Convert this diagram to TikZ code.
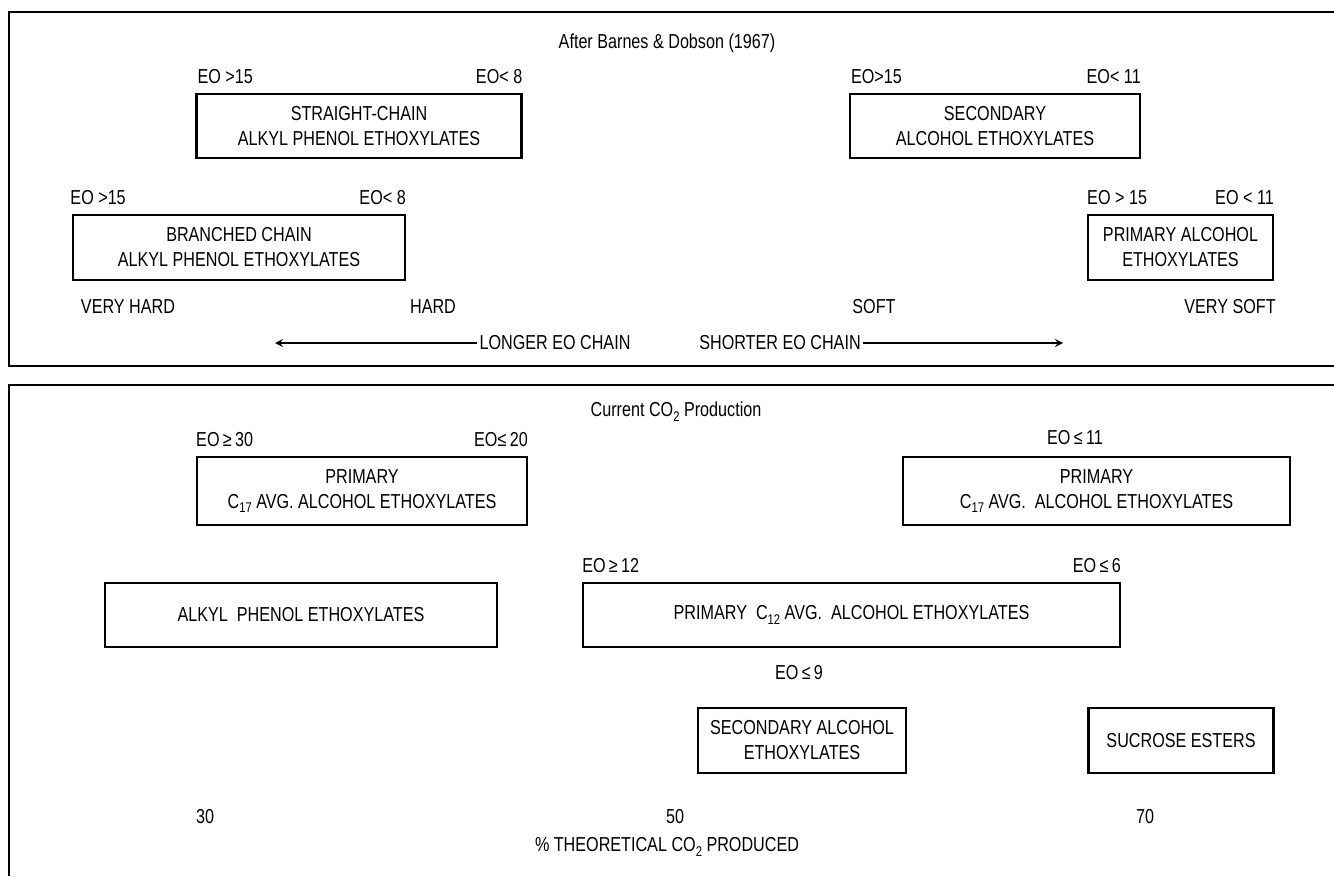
\documentclass[tikz,border=0pt]{standalone}
\usepackage{fontspec}
\setmainfont{Liberation Sans}[FakeStretch=0.8]
\usetikzlibrary{positioning, arrows}
\newcommand{\lowsub}[1]{\raisebox{-0.45ex}{\footnotesize #1}}

\begin{document}
\begin{tikzpicture}[
  x=0.02cm, y=-0.02cm, >=stealth,
  font=\fontsize{11.5}{14.2}\selectfont,
  box/.style={draw=black, line width=1.3pt, align=center, inner sep=2pt},
  frame/.style={draw=black, line width=1.4pt},
  lbl/.style={inner sep=1pt},
  eol/.style={inner sep=0pt, anchor=base west},
  eor/.style={inner sep=0pt, anchor=base east}
]
\useasboundingbox (0,0) rectangle (1334,876);

% panel frames
\draw[frame] (1334,12) -- (9,12) -- (9,366) -- (1334,366);
\draw[frame] (1334,385) -- (9,385) -- (9,876);

% upper panel
\node[lbl] (ttop) at (667,43) {After Barnes \& Dobson (1967)};

\node[box, minimum width=6.5cm, minimum height=1.28cm] (sape) at (359,126) {STRAIGHT-CHAIN\\ALKYL PHENOL ETHOXYLATES};
\node[box, minimum width=5.8cm, minimum height=1.28cm] (sae) at (995,126) {SECONDARY\\ALCOHOL ETHOXYLATES};
\node[box, minimum width=6.64cm, minimum height=1.3cm] (bape) at (239,247.5) {BRANCHED CHAIN\\ALKYL PHENOL ETHOXYLATES};
\node[box, minimum width=3.7cm, minimum height=1.3cm] (pae) at (1180.5,247.5) {PRIMARY ALCOHOL\\ETHOXYLATES};

\node[eol] (sapeL) at ([xshift=1pt, yshift=5.5pt]sape.north west) {EO >15};
\node[eor] (sapeR) at ([yshift=5.5pt]sape.north east) {EO< 8};
\node[eol] (saeL) at ([xshift=1pt, yshift=5.5pt]sae.north west) {EO>15};
\node[eor] (saeR) at ([yshift=5.5pt]sae.north east) {EO< 11};
\node[eol] (bapeL) at ([xshift=-1pt, yshift=5.5pt]bape.north west) {EO >15};
\node[eor] (bapeR) at ([yshift=5.5pt]bape.north east) {EO< 8};
\node[eol] (paeL) at ([yshift=5.5pt]pae.north west) {EO > 15};
\node[eor] (paeR) at ([yshift=5.5pt]pae.north east) {EO < 11};

\node[lbl] (vhard) at (128,307) {VERY HARD};
\node[lbl] (hard) at (433,307) {HARD};
\node[lbl] (soft) at (874,307) {SOFT};
\node[lbl] (vsoft) at (1230,307) {VERY SOFT};

\node[lbl] (longer) at (555,343) {LONGER EO CHAIN};
\node[lbl] (shorter) at (780,343) {SHORTER EO CHAIN};
\coordinate (lend) at (275,343);
\coordinate (rend) at (1063,343);
\draw[->, line width=1pt] (longer.west) -- (lend);
\draw[->, line width=1pt] (shorter.east) -- (rend);

% lower panel
\node[lbl] (tbot) at (676,412) {Current CO\lowsub{2} Production};

\node[box, minimum width=6.6cm, minimum height=1.36cm] (pcl) at (362,491) {PRIMARY\\C\lowsub{17} AVG. ALCOHOL ETHOXYLATES};
\node[box, minimum width=7.74cm, minimum height=1.36cm] (pcr) at (1096.5,491) {PRIMARY\\C\lowsub{17} AVG.\ \ ALCOHOL ETHOXYLATES};
\node[box, minimum width=7.84cm, minimum height=1.28cm] (ape) at (301,615) {ALKYL\ \ PHENOL ETHOXYLATES};
\node[box, minimum width=10.74cm, minimum height=1.28cm] (p12) at (851.5,615) {PRIMARY\ \ C\lowsub{12} AVG.\ \ ALCOHOL ETHOXYLATES};
\node[box, minimum width=4.16cm, minimum height=1.3cm] (sec) at (802,740.5) {SECONDARY ALCOHOL\\ETHOXYLATES};
\node[box, minimum width=3.7cm, minimum height=1.3cm] (suc) at (1181,740.5) {SUCROSE ESTERS};

\node[eol] (pclL) at ([yshift=5.5pt]pcl.north west) {EO\,≥\,30};
\node[eor] (pclR) at ([yshift=5.5pt]pcl.north east) {EO≤\,20};
\node[lbl] (pcrR) at (1075,438) {EO\,≤\,11};
\node[eol] (p12L) at ([yshift=5.5pt]p12.north west) {EO\,≥\,12};
\node[eor] (p12R) at ([yshift=5.5pt]p12.north east) {EO\,≤\,6};
\node[lbl] (secL) at (799,673) {EO\,≤\,9};

\node[lbl] (t30) at (205,817) {30};
\node[lbl] (t50) at (675,817) {50};
\node[lbl] (t70) at (1145,817) {70};
\node[lbl] (axis) at (667,847) {\% THEORETICAL CO\lowsub{2} PRODUCED};

\end{tikzpicture}
\end{document}
